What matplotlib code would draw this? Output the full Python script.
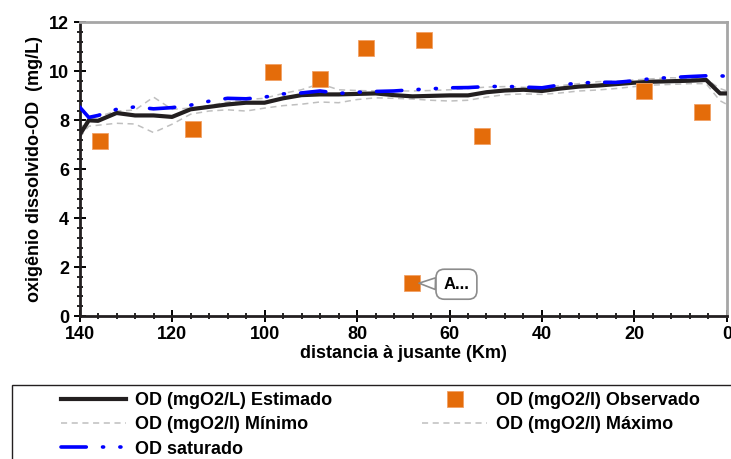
import matplotlib
matplotlib.use("Agg")
import matplotlib.pyplot as plt
from matplotlib.patches import Rectangle
from matplotlib.ticker import MultipleLocator

FONT = ["Liberation Sans Narrow", "Liberation Sans", "DejaVu Sans"]
plt.rcParams["font.family"] = FONT
plt.rcParams["font.weight"] = "bold"

# distancia à jusante (km) e perfis de OD (mg/L)
km = [140, 138, 136, 132, 128, 124, 120, 116, 112, 108, 104, 100, 96, 92, 88,
      84, 80, 76, 72, 68, 64, 60, 56, 52, 48, 44, 40, 36, 32, 28, 24, 20, 16,
      12, 8, 4.5, 1.5, 0]
od_estimado = [7.4, 8.0, 7.98, 8.3, 8.2, 8.2, 8.14, 8.45, 8.55, 8.65, 8.72,
               8.72, 8.9, 9.03, 9.06, 9.06, 9.08, 9.1, 9.03, 8.98, 9.0, 9.02,
               9.02, 9.15, 9.22, 9.25, 9.2, 9.3, 9.38, 9.42, 9.48, 9.54, 9.58,
               9.6, 9.62, 9.65, 9.1, 9.1]
od_minimo = [7.3, 7.76, 7.8, 7.88, 7.85, 7.5, 7.84, 8.25, 8.38, 8.43, 8.38,
             8.5, 8.6, 8.66, 8.75, 8.72, 8.85, 8.92, 8.9, 8.87, 8.82, 8.79,
             8.82, 8.95, 9.05, 9.08, 9.06, 9.12, 9.2, 9.24, 9.3, 9.38, 9.44,
             9.47, 9.5, 9.5, 8.8, 8.65]
od_maximo = [7.6, 8.1, 8.15, 8.38, 8.42, 8.95, 8.45, 8.5, 8.6, 8.75, 8.85,
             8.9, 9.1, 9.25, 9.5, 9.25, 9.22, 9.2, 9.2, 9.2, 9.22, 9.25, 9.3,
             9.36, 9.38, 9.35, 9.33, 9.42, 9.5, 9.58, 9.6, 9.65, 9.7, 9.74,
             9.72, 9.68, 9.3, 9.2]
od_saturado = [8.55, 8.12, 8.2, 8.45, 8.55, 8.47, 8.52, 8.62, 8.78, 8.9, 8.88,
               8.95, 9.08, 9.12, 9.2, 9.1, 9.15, 9.18, 9.2, 9.25, 9.29, 9.33,
               9.34, 9.38, 9.39, 9.36, 9.33, 9.45, 9.52, 9.56, 9.55, 9.62, 9.71,
               9.75, 9.79, 9.82, 9.82, 9.8]

# pontos de monitoramento
km_obs = [135.6, 115.5, 98.2, 88.0, 78.1, 65.5, 68.1, 53.0, 18.0, 5.4]
od_obs = [7.14, 7.63, 9.96, 9.71, 10.94, 11.3, 1.35, 7.35, 9.18, 8.33]

fig = plt.figure(figsize=(7.31, 4.59), dpi=100)
ax = fig.add_axes([0.1088, 0.3115, 0.8857, 0.6395])

grey = "#bfbfbf"
l_est, = ax.plot(km, od_estimado, color="#231f20", lw=3.0,
                 solid_joinstyle="round", zorder=4)
l_min, = ax.plot(km, od_minimo, color=grey, lw=1.1, ls=(0, (4, 3)), zorder=2)
l_max, = ax.plot(km, od_maximo, color=grey, lw=1.1, ls=(0, (4, 3)), zorder=2)
l_sat, = ax.plot(km, od_saturado, color="#0000ff", lw=2.6,
                 ls=(0, (7, 4.5, 0.3, 4.5, 0.3, 4.5)), dash_capstyle="round",
                 zorder=5)
l_obs, = ax.plot(km_obs, od_obs, ls="none", marker="s", ms=11,
                 color="#e46c0a", mec="#f2a064", mew=0.6, zorder=6)

# balão de rótulo sobre o ponto isolado
ax.annotate("A...", xy=(km_obs[6], od_obs[6]), xytext=(58.5, 1.3),
            ha="center", va="center", fontsize=12, fontweight="bold",
            bbox=dict(boxstyle="round,pad=0.45,rounding_size=0.5",
                      fc="white", ec="#8c8c8c", lw=1.2),
            arrowprops=dict(arrowstyle="wedge,tail_width=0.7,shrink_factor=0.5",
                            fc="white", ec="#8c8c8c", lw=1.2,
                            shrinkA=0, shrinkB=5),
            zorder=7)

ax.set_xlim(140, 0)
ax.set_ylim(0, 12)
ax.xaxis.set_major_locator(MultipleLocator(20))
ax.xaxis.set_minor_locator(MultipleLocator(4))
ax.yaxis.set_major_locator(MultipleLocator(2))
ax.yaxis.set_minor_locator(MultipleLocator(0.4))
ax.tick_params(which="major", direction="inout", length=9, width=1.4,
               labelsize=13, pad=3)
ax.tick_params(which="minor", direction="inout", length=5, width=1.2)
for lab in ax.get_xticklabels() + ax.get_yticklabels():
    lab.set_fontweight("bold")

for side in ("left", "bottom"):
    ax.spines[side].set_color("#231f20")
    ax.spines[side].set_linewidth(2.0)
for side in ("top", "right"):
    ax.spines[side].set_color("#a6a6a6")
    ax.spines[side].set_linewidth(2.0)

ax.set_xlabel("distancia à jusante (Km)", fontsize=13, fontweight="bold",
              labelpad=1)
ax.set_ylabel("oxigênio dissolvido-OD  (mg/L)", fontsize=13,
              fontweight="bold", labelpad=4)

handles = [l_est, l_min, l_sat, l_obs, l_max]
labels = ["OD (mgO2/L) Estimado", "OD (mgO2/l) Mínimo", "OD saturado",
          "OD (mgO2/l) Observado", "OD (mgO2/l) Máximo"]
legend_top = 1 - 385 / 459
fig.legend(handles, labels, ncol=2, loc="upper left",
           bbox_to_anchor=(0.066, legend_top + 0.012), frameon=False,
           prop=dict(family=FONT, weight="bold", size=13),
           handlelength=3.6, handletextpad=0.5, columnspacing=5.0,
           labelspacing=0.4, borderpad=0.2)
fig.patches.append(Rectangle((0.0165, -0.1), 1.5, legend_top + 0.1,
                             transform=fig.transFigure, fill=False,
                             ec="#231f20", lw=1.0))

fig.savefig("out.png", dpi=100)
